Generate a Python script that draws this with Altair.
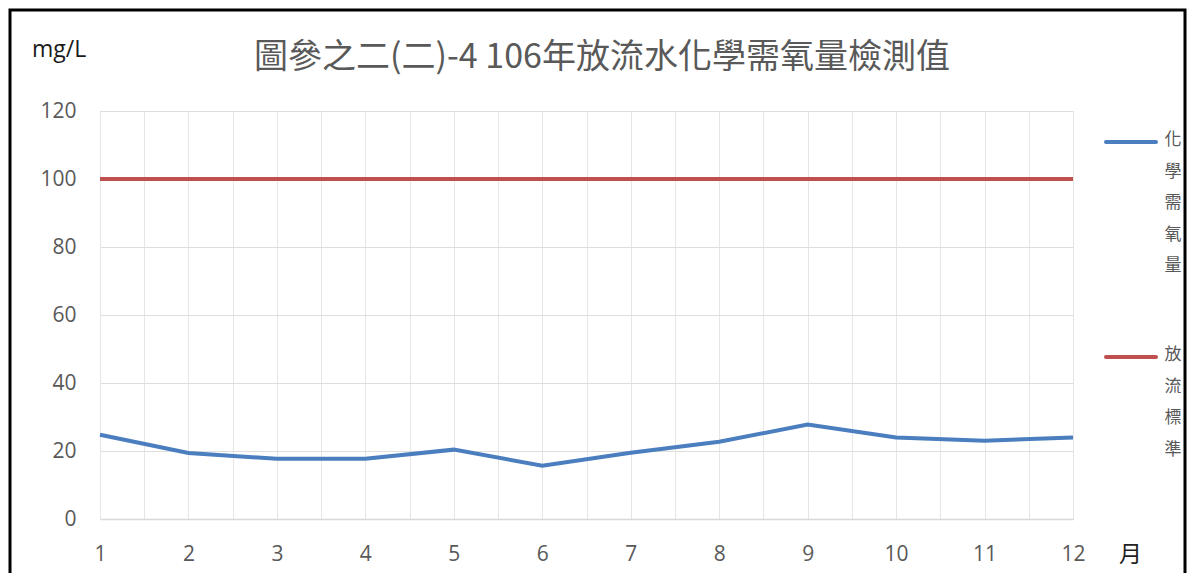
import altair as alt
import pandas as pd

# ---- data ----
months = [1, 2, 3, 4, 5, 6, 7, 8, 9, 10, 11, 12]
cod_values = [24.8, 19.4, 17.7, 17.7, 20.4, 15.7, 19.5, 22.7, 27.8, 24.0, 23.0, 24.0]
standard_values = [100, 100, 100, 100, 100, 100, 100, 100, 100, 100, 100, 100]
series_names = ["化學需氧量", "放流標準"]
series_colors = ["#4a7ebf", "#c0504d"]
y_ticks = [0, 20, 40, 60, 80, 100, 120]
x_grid = [1, 1.5, 2, 2.5, 3, 3.5, 4, 4.5, 5, 5.5, 6, 6.5, 7, 7.5, 8, 8.5,
          9, 9.5, 10, 10.5, 11, 11.5, 12]
title_text = "圖參之二(二)-4 106年放流水化學需氧量檢測值"
y_unit = "mg/L"
x_unit = "月"

df = pd.DataFrame({
    "month": months + months,
    "value": cod_values + standard_values,
    "series": [series_names[0]] * len(months) + [series_names[1]] * len(months),
})

W, H = 973, 408
LABEL_FONT = "Open Sans"
CJK_FONT = "Noto Sans CJK TC"

lines = alt.Chart(df).mark_line(strokeWidth=4).encode(
    x=alt.X("month:Q",
            scale=alt.Scale(domain=[1, 12], nice=False, zero=False),
            axis=alt.Axis(values=x_grid,
                          labelExpr="datum.value % 1 == 0 ? format(datum.value, 'd') : ''",
                          labelFlush=False, labelOverlap=False,
                          ticks=False, grid=True, gridColor="#e6e6e6",
                          domain=True, domainColor="#d9d9d9", domainWidth=1.5,
                          labelFont=LABEL_FONT, labelFontSize=21, labelColor="#595959",
                          labelPadding=24,
                          title=x_unit, titleFont=CJK_FONT, titleFontSize=23,
                          titleFontWeight="normal", titleColor="#222222",
                          titleX=1030, titleY=35, titleAnchor="middle",
                          titleAlign="center", titleBaseline="middle")),
    y=alt.Y("value:Q",
            scale=alt.Scale(domain=[0, 120], nice=False),
            axis=alt.Axis(values=y_ticks, ticks=False, domain=False,
                          grid=True, gridColor="#dedede", gridWidth=1.2,
                          labelFont=LABEL_FONT, labelFontSize=21, labelColor="#595959",
                          labelPadding=24, title=None)),
    color=alt.Color("series:N",
                    scale=alt.Scale(domain=series_names, range=series_colors),
                    legend=None),
)

unit_text = alt.Chart(pd.DataFrame({"u": [y_unit]})).mark_text(
    font=LABEL_FONT, fontSize=23, color="#1a1a1a", align="left", baseline="alphabetic"
).encode(text="u:N", x=alt.value(-68), y=alt.value(-54))

title_mark = alt.Chart(pd.DataFrame({"t": [title_text]})).mark_text(
    font=CJK_FONT, fontSize=34, color="#595959", align="center", baseline="middle"
).encode(text="t:N", x=alt.value(502), y=alt.value(-53))

# custom vertical legend (text stacked one character per line)
legend_rule_y = [31, 246]
legend_layers = []
for name, col, ly in zip(series_names, series_colors, legend_rule_y):
    one = pd.DataFrame({"label": ["\n".join(name)]})
    rule = alt.Chart(one).mark_rule(strokeWidth=4, color=col, strokeCap="round").encode(
        x=alt.value(1006), x2=alt.value(1056), y=alt.value(ly))
    txt = alt.Chart(one).mark_text(lineBreak="\n", lineHeight=31.5, fontSize=17,
                                   font=CJK_FONT, color="#595959",
                                   align="center", baseline="top").encode(
        text="label:N", x=alt.value(1073), y=alt.value(ly - 10))
    legend_layers += [rule, txt]

frame = alt.Chart(pd.DataFrame({"f": [0]})).mark_rect(
    filled=False, stroke="#000000", strokeWidth=3).encode(
    x=alt.value(-90), x2=alt.value(1085), y=alt.value(-101), y2=alt.value(600))

chart = alt.layer(frame, lines, title_mark, unit_text, *legend_layers).properties(
    width=W, height=H,
    autosize=alt.AutoSizeParams(type="none"),
    padding={"left": 92, "top": 103, "right": 115, "bottom": 54},
).configure_view(stroke=None).configure(background="white")

chart.save("out.html", embed_options={"renderer": "svg", "actions": False})
